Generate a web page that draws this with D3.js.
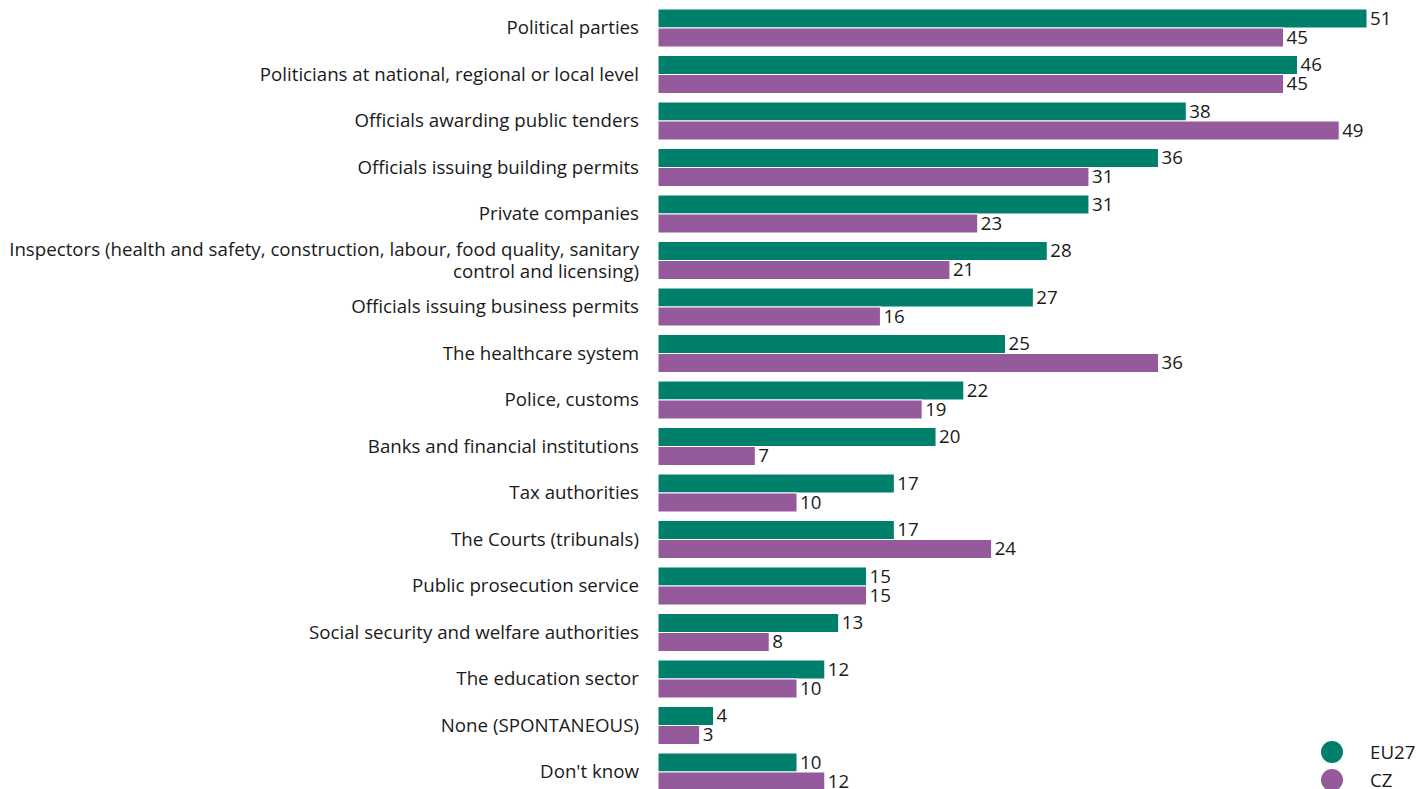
<!DOCTYPE html>
<html>
<head>
<meta charset="utf-8">
<script src="https://cdn.jsdelivr.net/npm/d3@7"></script>
<style>
  body { margin: 0; background: #fff; }
  svg text { font-family: "Open Sans", "DejaVu Sans", sans-serif; fill: #1a1a1a; }
</style>
</head>
<body>
<svg width="1426" height="789"></svg>
<script>
const categories = [
  "Political parties",
  "Politicians at national, regional or local level",
  "Officials awarding public tenders",
  "Officials issuing building permits",
  "Private companies",
  "Inspectors (health and safety, construction, labour, food quality, sanitary|control and licensing)",
  "Officials issuing business permits",
  "The healthcare system",
  "Police, customs",
  "Banks and financial institutions",
  "Tax authorities",
  "The Courts (tribunals)",
  "Public prosecution service",
  "Social security and welfare authorities",
  "The education sector",
  "None (SPONTANEOUS)",
  "Don't know"
];
const seriesNames = ["EU27", "CZ"];
const eu27 = [51, 46, 38, 36, 31, 28, 27, 25, 22, 20, 17, 17, 15, 13, 12, 4, 10];
const cz = [45, 45, 49, 31, 23, 21, 16, 36, 19, 7, 10, 24, 15, 8, 10, 3, 12];
const colors = ["#00806a", "#955a9c"];

const svg = d3.select("svg");
const left = 658;
const step = 46.5;
const pad = (step - 38) / step;
const y0 = 9 - step * pad / 2;
const fs = 18.7;

const x = d3.scaleLinear().domain([0, 51]).range([left, 1367]);
const y = d3.scaleBand().domain(categories).range([y0, y0 + step * categories.length])
  .paddingInner(pad).paddingOuter(pad / 2);
const ySub = d3.scaleBand().domain(seriesNames).range([0, y.bandwidth()]);

const rows = categories.map((c, i) => ({ cat: c, vals: [eu27[i], cz[i]] }));

// category labels
let group_labels = svg.append("g");
rows.map(r => {
  const lines = r.cat.split("|");
  const cy = y(r.cat) + y.bandwidth() / 2;
  const t = group_labels.append("text")
    .attr("x", 639)
    .attr("text-anchor", "end")
    .attr("font-size", fs);
  lines.map((l, j) => {
    t.append("tspan")
      .attr("x", 639)
      .attr("y", cy + (j - (lines.length - 1) / 2) * 22)
      .attr("dy", "0.33em")
      .text(l);
  });
});

// bars
let group_bars = svg.append("g");
rows.map(r => {
  r.vals.map((v, k) => {
    const yy = y(r.cat) + ySub(seriesNames[k]);
    group_bars.append("rect")
      .attr("x", x(0))
      .attr("y", yy)
      .attr("width", x(v) - x(0))
      .attr("height", ySub.bandwidth())
      .attr("fill", colors[k])
      .attr("stroke", "#fff")
      .attr("stroke-width", 1);
    group_bars.append("text")
      .attr("x", x(v) + 3)
      .attr("y", yy + ySub.bandwidth() / 2)
      .attr("dy", "0.33em")
      .attr("font-size", fs)
      .text(v);
  });
});

// legend
let legend = svg.append("g");
seriesNames.map((s, k) => {
  legend.append("circle")
    .attr("cx", 1332)
    .attr("cy", 752 + k * 28)
    .attr("r", 11)
    .attr("fill", colors[k]);
  legend.append("text")
    .attr("x", 1370)
    .attr("y", 752 + k * 28)
    .attr("dy", "0.35em")
    .attr("font-size", fs)
    .text(s);
});
</script>
</body>
</html>
